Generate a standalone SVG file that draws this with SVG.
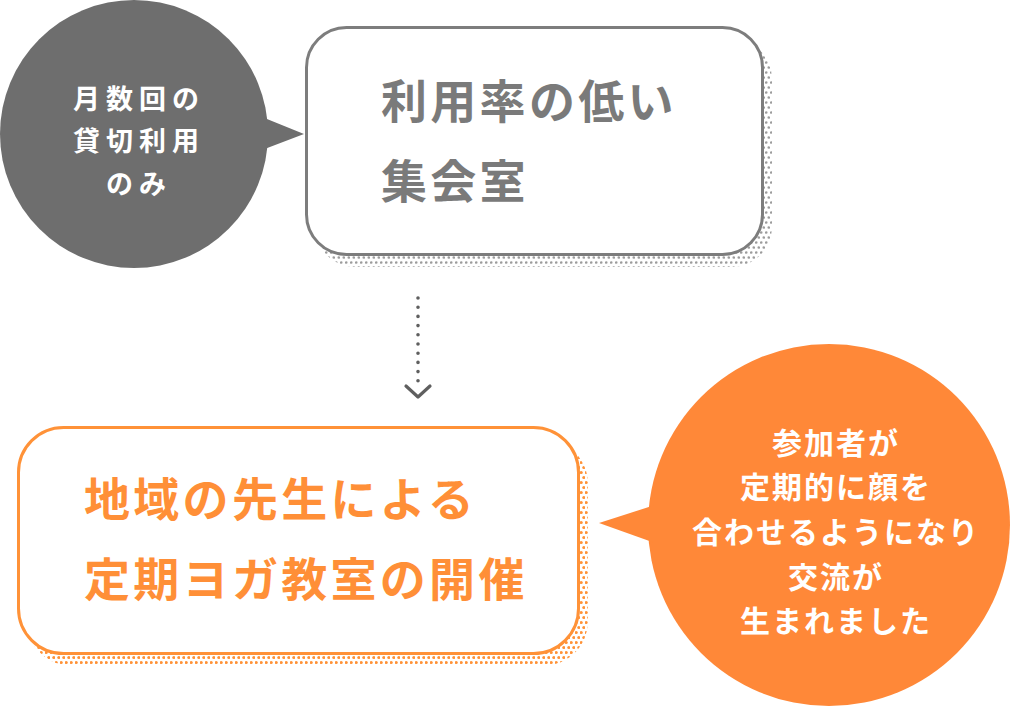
<svg xmlns="http://www.w3.org/2000/svg" width="1023" height="722" viewBox="0 0 1023 722">
  <defs>
    <pattern id="dotsGray" width="5" height="10" patternUnits="userSpaceOnUse">
      <circle cx="1.25" cy="2.5" r="1.3" fill="#9C9C9C"/>
      <circle cx="3.75" cy="7.5" r="1.3" fill="#9C9C9C"/>
    </pattern>
    <pattern id="dotsOrange" width="5" height="10" patternUnits="userSpaceOnUse">
      <circle cx="1.25" cy="2.5" r="1.5" fill="#FF9237"/>
      <circle cx="3.75" cy="7.5" r="1.5" fill="#FF9237"/>
    </pattern>
    <style>
      text { font-family: "Noto Sans CJK JP", "Noto Sans", sans-serif; font-weight: 700; }
      .big { font-size: 46px; letter-spacing: 3.3px; }
      .grayText { fill: #7A7A7A; }
      .orangeText { fill: #FF8F37; }
      .white { fill: #FFFFFF; }
      .small { font-size: 27px; letter-spacing: 6px; text-anchor: middle; }
      .mid { font-size: 30px; letter-spacing: 2px; text-anchor: middle; }
    </style>
  </defs>

  <g id="connectors">
    <line x1="418" y1="298" x2="418" y2="381" stroke="#5F5F5F" stroke-width="3.6" stroke-linecap="round" stroke-dasharray="0 9.2"/>
    <polyline points="406,386 418,397 430,386" fill="none" stroke="#5F5F5F" stroke-width="3.2" stroke-linecap="round" stroke-linejoin="round"/>
  </g>

  <g id="note-gray">
    <circle cx="134" cy="134" r="134" fill="#6E6E6E"/>
    <polygon points="262,117 304,134 262,150" fill="#6E6E6E"/>
    <text class="small white" x="139" y="109">月数回の</text>
    <text class="small white" x="139" y="151">貸切利用</text>
    <text class="small white" x="139" y="194">のみ</text>
  </g>

  <g id="box-top">
    <rect x="315" y="39" width="457" height="228" rx="40" fill="url(#dotsGray)"/>
    <rect x="306.5" y="27.5" width="456" height="227" rx="40" fill="#FFFFFF" stroke="#7D7D7D" stroke-width="3"/>
    <text class="big grayText" x="381" y="118">利用率の低い</text>
    <text class="big grayText" x="381" y="198">集会室</text>
  </g>

  <g id="box-bottom">
    <rect x="27" y="439" width="561" height="227" rx="45" fill="url(#dotsOrange)"/>
    <rect x="18.5" y="427.5" width="560" height="226" rx="45" fill="#FFFFFF" stroke="#FF9238" stroke-width="3"/>
    <text class="big orangeText" x="84" y="516">地域の先生による</text>
    <text class="big orangeText" x="84" y="596">定期ヨガ教室の開催</text>
  </g>

  <g id="note-orange">
    <circle cx="829" cy="525" r="181" fill="#FF8838"/>
    <polygon points="655,505 599,523 655,543" fill="#FF8838"/>
    <text class="mid white" x="836" y="454">参加者が</text>
    <text class="mid white" x="836" y="498">定期的に顔を</text>
    <text class="mid white" x="836" y="543">合わせるようになり</text>
    <text class="mid white" x="836" y="588">交流が</text>
    <text class="mid white" x="836" y="632">生まれました</text>
  </g>
</svg>
